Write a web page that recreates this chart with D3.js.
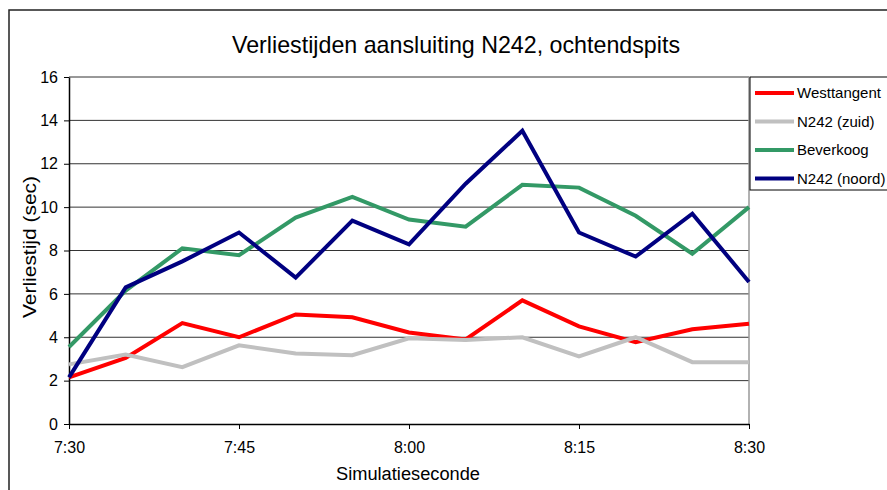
<!DOCTYPE html>
<html>
<head>
<meta charset="utf-8">
<script src="https://cdn.jsdelivr.net/npm/d3@7"></script>
<style>
  body { margin: 0; background: #fff; }
  svg { display: block; font-family: "Liberation Sans", Arial, sans-serif; }
</style>
</head>
<body>
<svg id="chart" width="887" height="490"></svg>
<script>
// tijden, elke 5 minuten
var times = ["7:30","7:35","7:40","7:45","7:50","7:55","8:00","8:05","8:10","8:15","8:20","8:25","8:30"];
var tickLabels = ["7:30","7:45","8:00","8:15","8:30"];
var yTicks = [0,2,4,6,8,10,12,14,16];

var westtangent = [2.15, 3.05, 4.65, 4.0, 5.05, 4.92, 4.22, 3.9, 5.7, 4.5, 3.77, 4.37, 4.62];
var n242zuid    = [2.75, 3.2, 2.62, 3.63, 3.25, 3.17, 3.95, 3.87, 4.0, 3.12, 4.0, 2.85, 2.85];
var beverkoog   = [3.55, 6.15, 8.1, 7.78, 9.52, 10.47, 9.43, 9.1, 11.03, 10.9, 9.6, 7.85, 10.0];
var n242noord   = [2.15, 6.3, 7.5, 8.83, 6.75, 9.38, 8.28, 11.08, 13.52, 8.83, 7.72, 9.7, 6.55];

var seriesNames = ["Westtangent", "N242 (zuid)", "Beverkoog", "N242 (noord)"];
var seriesColors = ["#ff0000", "#c0c0c0", "#339966", "#000080"];
var seriesData = [westtangent, n242zuid, beverkoog, n242noord];

var svg = d3.select("#chart");

// buitenrand
svg.append("rect")
    .attr("x", 9).attr("y", 10)
    .attr("width", 900).attr("height", 500)
    .attr("fill", "none").attr("stroke", "#222").attr("stroke-width", 1.5);

var plotLeft = 69, plotRight = 749, plotTop = 77, plotBottom = 424;

var x = d3.scalePoint().domain(times).range([plotLeft, plotRight]);
var y = d3.scaleLinear().domain([0, 16]).range([plotBottom, plotTop]);

// gridlijnen
svg.append("g").selectAll("line")
    .data(yTicks.slice(1))
    .enter().append("line")
        .attr("x1", plotLeft).attr("x2", plotRight)
        .attr("y1", d => y(d)).attr("y2", d => y(d))
        .attr("stroke", "#333").attr("stroke-width", 1);

// rechterrand plotgebied
svg.append("line")
    .attr("x1", plotRight).attr("x2", plotRight)
    .attr("y1", plotTop).attr("y2", plotBottom)
    .attr("stroke", "#999").attr("stroke-width", 1.5);

// y-as
var yAxis = svg.append("g")
    .attr("transform", "translate(" + plotLeft + ",0)")
    .call(d3.axisLeft(y).tickValues(yTicks).tickSize(5).tickPadding(6).tickSizeOuter(0));
yAxis.select(".domain").attr("stroke", "#000").attr("stroke-width", 1.5);
yAxis.selectAll("text").attr("font-size", 16).attr("fill", "#000");

// x-as
var xAxis = svg.append("g")
    .attr("transform", "translate(0," + plotBottom + ")")
    .call(d3.axisBottom(x).tickValues(tickLabels).tickSize(5).tickPadding(13).tickSizeOuter(0));
xAxis.select(".domain").attr("stroke", "#000").attr("stroke-width", 1.5);
xAxis.selectAll("text").attr("font-size", 16).attr("fill", "#000");

// lijnen
var line = d3.line()
    .x((d, i) => x(times[i]))
    .y(d => y(d));

svg.append("g").selectAll("path")
    .data(seriesData)
    .enter().append("path")
        .attr("d", d => line(d))
        .attr("fill", "none")
        .attr("stroke", (d, i) => seriesColors[i])
        .attr("stroke-width", 4)
        .attr("stroke-linejoin", "miter");

// titels
svg.append("text")
    .attr("x", 456).attr("y", 53)
    .attr("text-anchor", "middle")
    .attr("font-size", 24)
    .attr("textLength", 448)
    .attr("lengthAdjust", "spacingAndGlyphs")
    .text("Verliestijden aansluiting N242, ochtendspits");

svg.append("text")
    .attr("x", 408).attr("y", 480)
    .attr("text-anchor", "middle")
    .attr("font-size", 18)
    .attr("textLength", 144)
    .attr("lengthAdjust", "spacingAndGlyphs")
    .text("Simulatieseconde");

svg.append("text")
    .attr("transform", "translate(36,247) rotate(-90)")
    .attr("text-anchor", "middle")
    .attr("font-size", 19)
    .attr("textLength", 142)
    .attr("lengthAdjust", "spacingAndGlyphs")
    .text("Verliestijd (sec)");

// legenda
var legend = svg.append("g");
legend.append("rect")
    .attr("x", 750).attr("y", 77)
    .attr("width", 160).attr("height", 113)
    .attr("fill", "#fff").attr("stroke", "#000").attr("stroke-width", 1);

var items = legend.selectAll("g.item")
    .data(seriesNames)
    .enter().append("g")
        .attr("transform", (d, i) => "translate(0," + (93 + i * 28.5) + ")");
items.append("line")
    .attr("x1", 755).attr("x2", 794)
    .attr("stroke", (d, i) => seriesColors[i])
    .attr("stroke-width", 4);
items.append("text")
    .attr("x", 797).attr("y", 5)
    .attr("font-size", 15)
    .text(d => d);
</script>
</body>
</html>
